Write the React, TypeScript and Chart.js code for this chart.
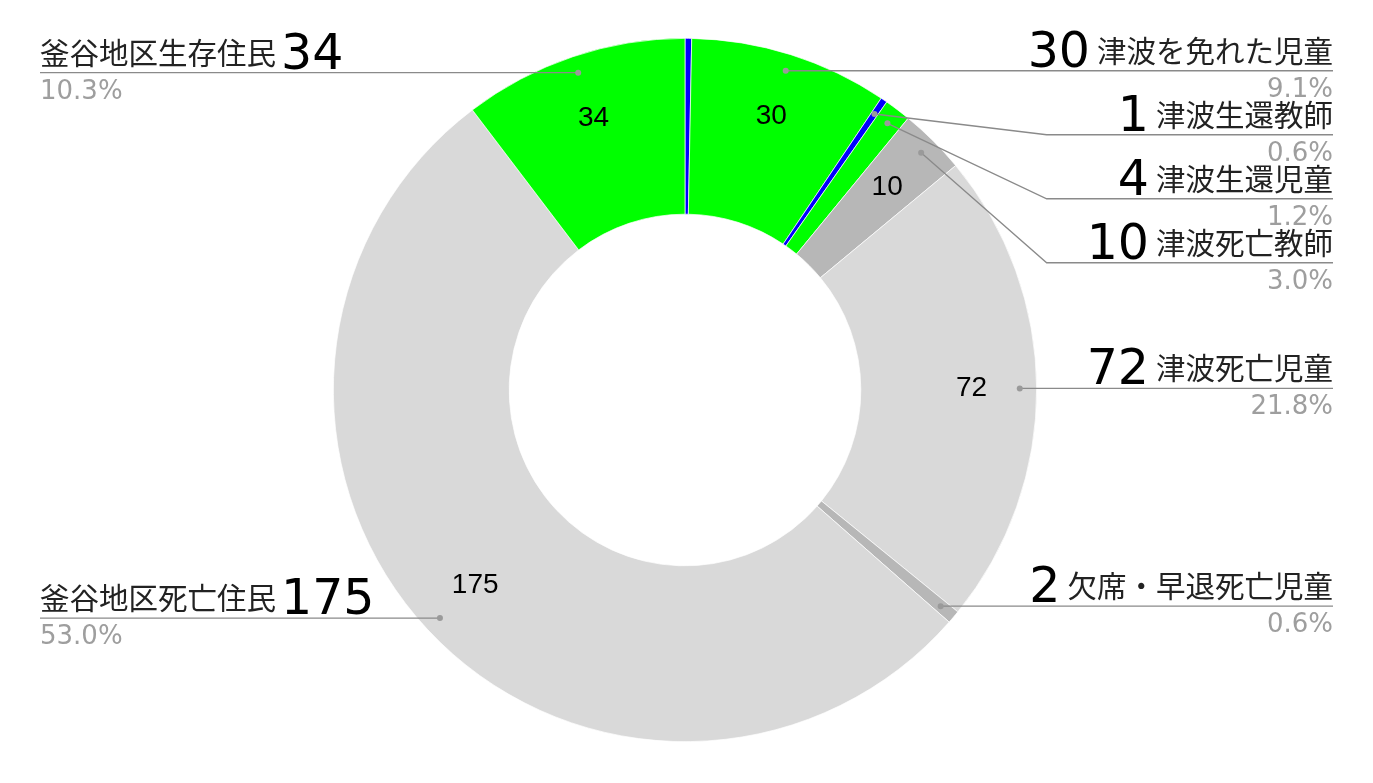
import React, { useEffect, useRef } from 'react';
import { Chart, registerables } from 'chart.js';

Chart.register(...registerables);

const categories = ['', '津波を免れた児童', '津波生還教師', '津波生還児童', '津波死亡教師', '津波死亡児童', '欠席・早退死亡児童', '釜谷地区死亡住民', '釜谷地区生存住民'];
const values = [1, 30, 1, 4, 10, 72, 2, 175, 34];
const percentLabels = ['', '9.1%', '0.6%', '1.2%', '3.0%', '21.8%', '0.6%', '53.0%', '10.3%'];
const sliceColors = ['#0000ff', '#00ff00', '#0000ff', '#00ff00', '#b7b7b7', '#d9d9d9', '#b7b7b7', '#d9d9d9', '#00ff00'];

const NAME_FONT = '29.5px "Noto Sans CJK JP", sans-serif';
const BIG_FONT = '49px "DejaVu Sans", sans-serif';
const PCT_FONT = '26px "DejaVu Sans", sans-serif';
const INNER_FONT = '28px "Liberation Sans", Arial, sans-serif';

const labelPlugin = {
  id: 'pieLabels',
  afterDatasetsDraw(chart: any) {
    const ctx = chart.ctx as CanvasRenderingContext2D;
    const arcs = chart.getDatasetMeta(0).data;
    const total = values.reduce((a, b) => a + b, 0);
    const W = chart.width;
    const edge = 32;

    ctx.save();
    // inner value labels
    ctx.font = INNER_FONT;
    ctx.fillStyle = '#000';
    ctx.textAlign = 'center';
    ctx.textBaseline = 'middle';
    arcs.forEach((arc: any, i: number) => {
      if (values[i] / total < 0.025) return;
      const p = arc.getProps(['x', 'y', 'startAngle', 'endAngle', 'outerRadius'], true);
      const mid = (p.startAngle + p.endAngle) / 2;
      const r = p.outerRadius * 0.815;
      ctx.fillText(String(values[i]), p.x + r * Math.cos(mid), p.y + r * Math.sin(mid));
    });

    // leader labels
    const items = arcs
      .map((arc: any, i: number) => {
        const p = arc.getProps(['x', 'y', 'startAngle', 'endAngle', 'outerRadius'], true);
        const mid = (p.startAngle + p.endAngle) / 2;
        const r = p.outerRadius * 0.952;
        return {
          i,
          cx: p.x,
          R: p.outerRadius,
          right: Math.cos(mid) >= 0,
          dx: p.x + r * Math.cos(mid),
          dy: p.y + r * Math.sin(mid),
          L: 0,
        };
      })
      .filter((it: any) => categories[it.i] !== '');

    const layout = (group: any[]) => {
      group.sort((a, b) => a.dy - b.dy);
      let prev = -Infinity;
      group.forEach((it) => {
        it.L = Math.max(it.dy, prev + 64);
        prev = it.L;
      });
    };
    const rightItems = items.filter((it: any) => it.right);
    const leftItems = items.filter((it: any) => !it.right);
    layout(rightItems);
    layout(leftItems);

    ctx.textBaseline = 'alphabetic';
    const drawLeader = (it: any) => {
      const endX = it.right ? W - edge : edge;
      const elbowX = it.right ? it.cx + it.R + 10 : it.cx - it.R - 10;
      ctx.strokeStyle = '#8a8a8a';
      ctx.lineWidth = 1.3;
      ctx.beginPath();
      ctx.moveTo(it.dx, it.dy);
      if (Math.abs(it.L - it.dy) > 1) {
        ctx.lineTo(elbowX, it.L);
      } else {
        it.L = it.dy;
      }
      ctx.lineTo(endX, it.L);
      ctx.stroke();
      ctx.fillStyle = '#9a9a9a';
      ctx.beginPath();
      ctx.arc(it.dx, it.dy, 3, 0, Math.PI * 2);
      ctx.fill();

      const name = categories[it.i];
      ctx.font = NAME_FONT;
      const nameW = ctx.measureText(name).width;
      ctx.fillStyle = '#222';
      if (it.right) {
        ctx.textAlign = 'right';
        ctx.fillText(name, endX, it.L - 9);
        ctx.font = BIG_FONT;
        ctx.fillStyle = '#000';
        ctx.fillText(String(values[it.i]), endX - nameW - 7, it.L - 4);
      } else {
        ctx.textAlign = 'left';
        ctx.fillText(name, endX, it.L - 9);
        ctx.font = BIG_FONT;
        ctx.fillStyle = '#000';
        ctx.fillText(String(values[it.i]), endX + nameW + 5, it.L - 4);
      }
      ctx.font = PCT_FONT;
      ctx.fillStyle = '#9e9e9e';
      ctx.fillText(percentLabels[it.i], endX, it.L + 26);
    };
    rightItems.forEach(drawLeader);
    leftItems.forEach(drawLeader);
    ctx.restore();
  },
};

export default function App() {
  const canvasRef = useRef<HTMLCanvasElement | null>(null);

  useEffect(() => {
    if (!canvasRef.current) return;
    const chart = new Chart(canvasRef.current, {
      type: 'doughnut',
      data: {
        labels: categories,
        datasets: [
          {
            data: values,
            backgroundColor: sliceColors,
            borderColor: '#ffffff',
            borderWidth: 0.7,
          },
        ],
      },
      options: {
        animation: false,
        responsive: true,
        maintainAspectRatio: false,
        cutout: '50%',
        layout: { padding: { top: 30, bottom: 33, left: 0, right: 3 } },
        plugins: {
          legend: { display: false },
          tooltip: { enabled: false },
        },
      },
      plugins: [labelPlugin],
    });
    return () => chart.destroy();
  }, []);

  return (
    <div style={{ position: 'relative', width: 1357, height: 767 }}>
      <canvas ref={canvasRef} />
    </div>
  );
}
